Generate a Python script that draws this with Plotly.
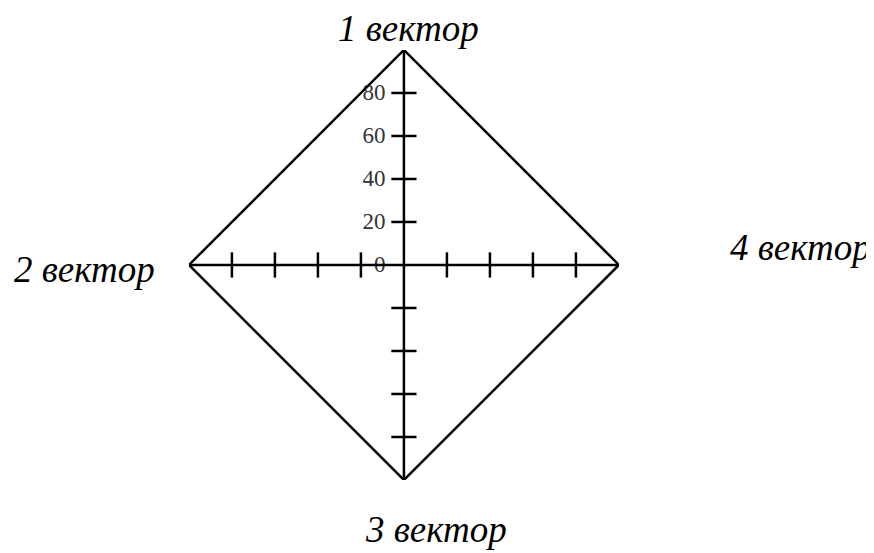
import plotly.graph_objects as go

categories = ["1 вектор", "2 вектор", "3 вектор", "4 вектор"]
values = [100, 100, 100, 100]
tick_values = [20, 40, 60, 80]
radial_tick_labels = ["0", "20", "40", "60", "80"]
radial_tick_vals = [0, 20, 40, 60, 80]

fig = go.Figure()

# axes cross
fig.add_trace(go.Scatterpolar(r=[100, 0, 100], theta=[categories[0], categories[0], categories[2]],
                              mode="lines", line=dict(color="black", width=2.5),
                              hoverinfo="skip", showlegend=False))
fig.add_trace(go.Scatterpolar(r=[100, 0, 100], theta=[categories[1], categories[1], categories[3]],
                              mode="lines", line=dict(color="black", width=2.5),
                              hoverinfo="skip", showlegend=False))

# tick marks on vertical axes
for cat in [categories[0], categories[2]]:
    fig.add_trace(go.Scatterpolar(r=tick_values, theta=[cat] * len(tick_values), mode="markers",
                                  marker=dict(symbol="line-ew", size=18, line=dict(color="black", width=2.5)),
                                  hoverinfo="skip", showlegend=False))
for cat in [categories[1], categories[3]]:
    fig.add_trace(go.Scatterpolar(r=tick_values, theta=[cat] * len(tick_values), mode="markers",
                                  marker=dict(symbol="line-ns", size=18, line=dict(color="black", width=2.5)),
                                  hoverinfo="skip", showlegend=False))

# data polygon
fig.add_trace(go.Scatterpolar(r=values + [values[0]], theta=categories + [categories[0]],
                              mode="lines", line=dict(color="black", width=2.5),
                              showlegend=False))

fig.update_layout(
    width=874, height=553,
    margin=dict(l=0, r=0, t=0, b=0),
    paper_bgcolor="white", plot_bgcolor="white",
    showlegend=False,
    polar=dict(
        domain=dict(x=[0.2070, 0.6990], y=[0.1465, 0.9241]),
        bgcolor="white",
        angularaxis=dict(direction="counterclockwise", rotation=90, showline=False,
                         showgrid=False, showticklabels=False, ticks="",
                         categoryorder="array", categoryarray=categories),
        radialaxis=dict(range=[0, 100], angle=90, tickangle=90, showline=False, showgrid=False,
                        tickvals=radial_tick_vals, ticktext=radial_tick_labels,
                        ticks="outside", ticklen=10, tickcolor="rgba(0,0,0,0)",
                        side="counterclockwise", layer="below traces",
                        tickfont=dict(family="Liberation Serif", size=23, color="#333")),
    ),
)

label_font = dict(family="Liberation Serif", size=37, color="black", style="italic")
positions = [(400, 20), (76, 261), (428, 521), (792, 240)]
for cat, (px, py) in zip(categories, positions):
    fig.add_annotation(x=px / 874, y=1 - py / 553, xref="paper", yref="paper",
                       text=cat, showarrow=False, font=label_font,
                       xanchor="center", yanchor="middle")

fig.write_html("out.html")
